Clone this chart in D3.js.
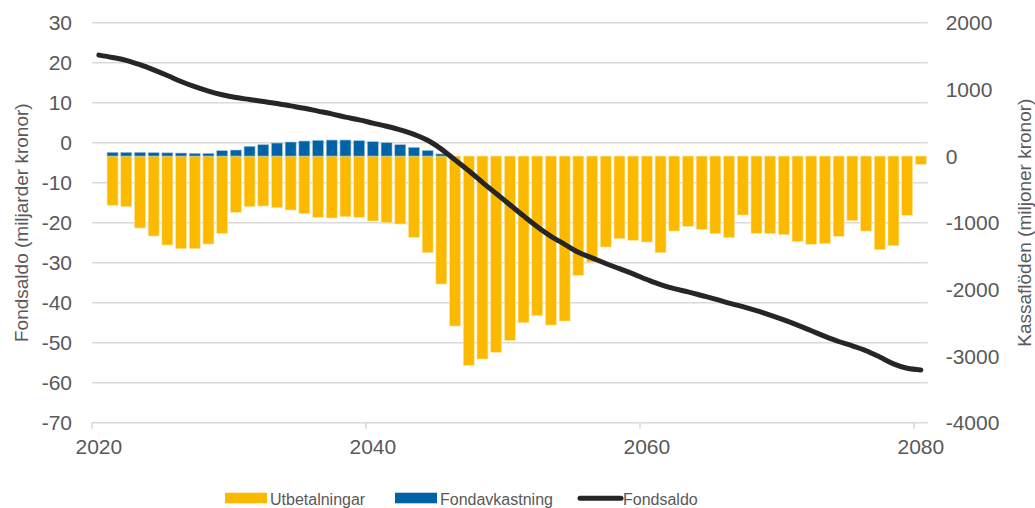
<!DOCTYPE html>
<html>
<head>
<meta charset="utf-8">
<script src="https://cdn.jsdelivr.net/npm/d3@7"></script>
<style>
    body { margin: 0; background: #fff; }
    svg { display: block; font-family: "Liberation Sans", Arial, sans-serif; }
    .tick-label { fill: #595959; font-size: 21px; }
    .title { fill: #595959; font-size: 19px; }
    .legend text { fill: #595959; font-size: 16px; }
</style>
</head>
<body>
<svg id="chart" width="1035" height="508"></svg>
<script>
// years shown on the category axis
const axisYears = d3.range(2020, 2081)
const barYears = d3.range(2021, 2081)
const xTickYears = [2020, 2040, 2060, 2080]
const leftTicks = [30, 20, 10, 0, -10, -20, -30, -40, -50, -60, -70]
const rightTicks = [2000, 1000, 0, -1000, -2000, -3000, -4000]

// Utbetalningar, miljoner kronor (right axis)
const utbetalningar = [
    -740, -760, -1080, -1200, -1335, -1390, -1390, -1320, -1160, -845,
    -760, -750, -775, -810, -865, -920, -930, -910, -920, -975,
    -1000, -1020, -1220, -1450, -1920, -2550, -3140, -3045, -2945, -2765,
    -2500, -2395, -2535, -2475, -1790, -1590, -1365, -1240, -1265, -1290,
    -1450, -1125, -1055, -1100, -1165, -1225, -885, -1160, -1165, -1180,
    -1285, -1325, -1315, -1205, -970, -1125, -1405, -1345, -890, -125
]

// Fondavkastning, miljoner kronor (right axis)
const fondavkastning = [
    55, 55, 55, 50, 48, 45, 40, 40, 80, 90,
    145, 170, 195, 210, 225, 235, 240, 240, 230, 215,
    200, 170, 130, 83, 32, 0, 0, 0, 0, 0,
    0, 0, 0, 0, 0, 0, 0, 0, 0, 0,
    0, 0, 0, 0, 0, 0, 0, 0, 0, 0,
    0, 0, 0, 0, 0, 0, 0, 0, 0, 0
]

// Fondsaldo, miljarder kronor (left axis), 2020-2080
const fondsaldo = [
    21.9, 21.3, 20.6, 19.5, 18.2, 16.8, 15.3, 14.0, 12.9, 12.0,
    11.3, 10.8, 10.3, 9.8, 9.2, 8.6, 7.9, 7.2, 6.4, 5.7,
    4.9, 4.1, 3.2, 2.1, 0.6, -1.6, -4.3, -7.0, -9.9, -12.7,
    -15.5, -18.3, -21.0, -23.4, -25.4, -27.4, -28.8, -30.2, -31.5, -32.8,
    -34.2, -35.5, -36.5, -37.3, -38.2, -39.1, -40.1, -41.0, -42.0, -43.1,
    -44.3, -45.6, -47.0, -48.4, -49.7, -50.8, -52.0, -53.6, -55.3, -56.4,
    -56.8
]

const yellow = "#fbba00"
const blue = "#0063a7"
const black = "#262626"
const grid = "#d9d9d9"

const margin = { top: 22.7, left: 92, right: 1035 - 927.7, bottom: 508 - 422.7 }
const w = 1035 - margin.left - margin.right
const h = 508 - margin.top - margin.bottom

const svg = d3.select("#chart")
const g = svg.append("g").attr("transform", "translate(" + [margin.left, margin.top] + ")")

const x = d3.scaleBand()
    .domain(axisYears)
    .range([0, w])
    .paddingInner(0.2)
    .paddingOuter(0.1)
const step = x.step()
const cx = function (yr) { return x(yr) + x.bandwidth() / 2 }

const yLeft = d3.scaleLinear().domain([-70, 30]).range([h, 0])
const yRight = d3.scaleLinear().domain([-4000, 2000]).range([h, 0])

// gridlines
g.selectAll(".grid")
    .data(leftTicks)
    .enter().append("line")
    .attr("x1", 0).attr("x2", w)
    .attr("y1", function (d) { return yLeft(d) })
    .attr("y2", function (d) { return yLeft(d) })
    .attr("stroke", grid)
    .attr("stroke-width", 1.5)

// x ticks at start of category
g.selectAll(".xtick")
    .data(xTickYears)
    .enter().append("line")
    .attr("x1", function (d) { return x(d) - (step - x.bandwidth()) / 2 })
    .attr("x2", function (d) { return x(d) - (step - x.bandwidth()) / 2 })
    .attr("y1", h).attr("y2", h + 6)
    .attr("stroke", grid)
    .attr("stroke-width", 1.5)

// bars
const barData = barYears.map(function (yr, i) {
    return { year: yr, ut: utbetalningar[i], fa: fondavkastning[i] }
})

g.selectAll(".ut")
    .data(barData)
    .enter().append("rect")
    .attr("x", function (d) { return x(d.year) })
    .attr("y", yRight(0))
    .attr("width", x.bandwidth())
    .attr("height", function (d) { return yRight(d.ut) - yRight(0) })
    .attr("fill", yellow)
    .attr("stroke", "#fde7a6")
    .attr("stroke-width", 0.6)

g.selectAll(".fa")
    .data(barData.filter(function (d) { return d.fa > 0 }))
    .enter().append("rect")
    .attr("x", function (d) { return x(d.year) })
    .attr("y", function (d) { return yRight(d.fa) })
    .attr("width", x.bandwidth())
    .attr("height", function (d) { return yRight(0) - yRight(d.fa) })
    .attr("fill", blue)
    .attr("stroke", "#9cc0dd")
    .attr("stroke-width", 0.6)

// fondsaldo line
const line = d3.line()
    .x(function (d, i) { return cx(axisYears[i]) })
    .y(function (d) { return yLeft(d) })
    .curve(d3.curveMonotoneX)

g.append("path")
    .datum(fondsaldo)
    .attr("d", line)
    .attr("fill", "none")
    .attr("stroke", black)
    .attr("stroke-width", 5)
    .attr("stroke-linecap", "round")
    .attr("stroke-linejoin", "round")

// tick labels
g.selectAll(".ly")
    .data(leftTicks)
    .enter().append("text")
    .attr("class", "tick-label")
    .attr("x", -20)
    .attr("y", function (d) { return yLeft(d) })
    .attr("dy", "0.36em")
    .attr("text-anchor", "end")
    .text(function (d) { return d })

g.selectAll(".ry")
    .data(rightTicks)
    .enter().append("text")
    .attr("class", "tick-label")
    .attr("x", w + 18)
    .attr("y", function (d) { return yRight(d) })
    .attr("dy", "0.36em")
    .attr("text-anchor", "start")
    .text(function (d) { return d })

g.selectAll(".xl")
    .data(xTickYears)
    .enter().append("text")
    .attr("class", "tick-label")
    .attr("x", function (d) { return cx(d) })
    .attr("y", h + 31)
    .attr("text-anchor", "middle")
    .text(function (d) { return d })

// axis titles
svg.append("text")
    .attr("class", "title")
    .attr("transform", "translate(28," + (margin.top + h / 2) + ") rotate(-90)")
    .attr("text-anchor", "middle")
    .text("Fondsaldo (miljarder kronor)")

svg.append("text")
    .attr("class", "title")
    .attr("transform", "translate(1031," + (margin.top + h / 2) + ") rotate(-90)")
    .attr("text-anchor", "middle")
    .text("Kassaflöden (miljoner kronor)")

// legend
const legend = svg.append("g").attr("class", "legend")
const items = [
    { label: "Utbetalningar", x: 225, type: "rect", color: yellow },
    { label: "Fondavkastning", x: 395, type: "rect", color: blue },
    { label: "Fondsaldo", x: 578, type: "line", color: black }
]
items.forEach(function (it) {
    if (it.type === "rect") {
        legend.append("rect")
            .attr("x", it.x).attr("y", 492.7)
            .attr("width", 42).attr("height", 10.6)
            .attr("fill", it.color)
    } else {
        legend.append("line")
            .attr("x1", it.x + 2).attr("x2", it.x + 43)
            .attr("y1", 498.3).attr("y2", 498.3)
            .attr("stroke", it.color)
            .attr("stroke-width", 5)
            .attr("stroke-linecap", "round")
    }
    legend.append("text")
        .attr("x", it.x + 45)
        .attr("y", 505)
        .text(it.label)
})
</script>
</body>
</html>
